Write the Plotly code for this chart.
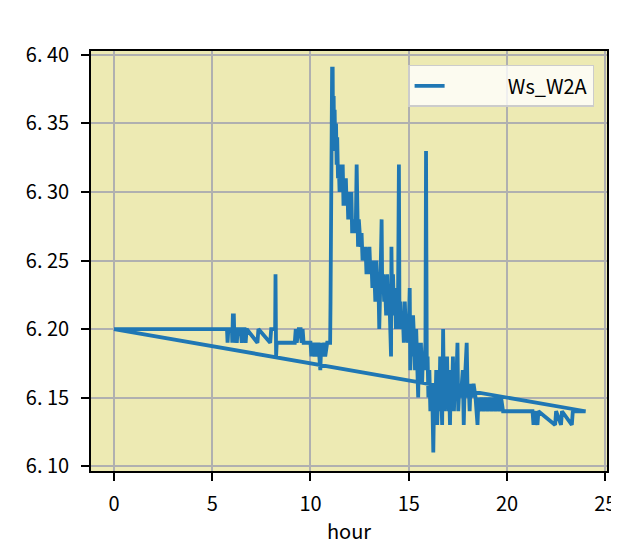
import plotly.graph_objects as go

# hour of day and wind speed readings
hour = [
    0.00, 5.75, 5.78, 5.82, 6.00, 6.02, 6.05, 6.10, 6.13, 6.20, 6.25, 6.30,
    6.45, 6.50, 6.55, 6.65, 6.70, 6.75, 7.30, 7.35, 7.95, 8.00, 8.20, 8.22,
    8.25, 8.28, 9.20, 9.25, 9.30, 9.40, 9.50, 9.55, 9.60, 9.65, 10.00, 10.05,
    10.10, 10.20, 10.25, 10.35, 10.40, 10.50, 10.55, 10.60, 10.70, 10.75, 10.85, 10.95,
    11.00, 11.02, 11.04, 11.06, 11.08, 11.10, 11.13, 11.15, 11.18, 11.20, 11.23, 11.26,
    11.30, 11.33, 11.36, 11.40, 11.44, 11.48, 11.52, 11.56, 11.60, 11.64, 11.68, 11.72,
    11.76, 11.80, 11.84, 11.88, 11.92, 11.96, 12.00, 12.04, 12.08, 12.12, 12.16, 12.20,
    12.25, 12.30, 12.35, 12.38, 12.42, 12.46, 12.50, 12.55, 12.60, 12.65, 12.70, 12.75,
    12.80, 12.85, 12.90, 12.95, 13.00, 13.05, 13.10, 13.15, 13.20, 13.25, 13.30, 13.35,
    13.40, 13.45, 13.50, 13.53, 13.58, 13.62, 13.65, 13.70, 13.75, 13.80, 13.85, 13.90,
    13.95, 14.00, 14.05, 14.10, 14.12, 14.15, 14.20, 14.25, 14.30, 14.35, 14.40, 14.45,
    14.50, 14.53, 14.58, 14.62, 14.70, 14.75, 14.80, 14.85, 14.90, 14.95, 15.00, 15.05,
    15.08, 15.12, 15.18, 15.22, 15.28, 15.32, 15.38, 15.42, 15.48, 15.52, 15.58, 15.62,
    15.68, 15.72, 15.78, 15.85, 15.88, 15.92, 15.96, 16.00, 16.05, 16.10, 16.15, 16.20,
    16.25, 16.30, 16.35, 16.40, 16.45, 16.50, 16.55, 16.60, 16.65, 16.70, 16.75, 16.80,
    16.85, 16.90, 16.95, 17.00, 17.05, 17.10, 17.15, 17.20, 17.25, 17.30, 17.35, 17.40,
    17.48, 17.52, 17.58, 17.65, 17.75, 17.80, 17.85, 17.95, 18.00, 18.05, 18.10, 18.15,
    18.20, 18.30, 18.40, 18.50, 18.55, 18.60, 18.70, 18.80, 18.90, 19.00, 19.10, 19.20,
    19.30, 19.40, 19.50, 19.60, 19.70, 19.80, 20.00, 21.30, 21.35, 21.40, 21.55, 21.60,
    22.45, 22.50, 22.75, 22.80, 23.30, 23.35, 24.00, 0.00,
]
ws_w2a = [
    6.20, 6.20, 6.19, 6.20, 6.20, 6.19, 6.21, 6.21, 6.19, 6.20, 6.19, 6.20,
    6.20, 6.19, 6.20, 6.20, 6.19, 6.20, 6.19, 6.20, 6.19, 6.20, 6.20, 6.24,
    6.18, 6.19, 6.19, 6.20, 6.19, 6.20, 6.20, 6.19, 6.20, 6.19, 6.19, 6.18,
    6.19, 6.18, 6.19, 6.18, 6.19, 6.17, 6.19, 6.18, 6.19, 6.18, 6.19, 6.19,
    6.19, 6.22, 6.30, 6.34, 6.38, 6.39, 6.39, 6.33, 6.37, 6.34, 6.36, 6.33,
    6.35, 6.32, 6.34, 6.31, 6.32, 6.30, 6.32, 6.31, 6.30, 6.32, 6.29, 6.31,
    6.30, 6.31, 6.29, 6.30, 6.28, 6.30, 6.29, 6.28, 6.30, 6.27, 6.28, 6.27,
    6.28, 6.27, 6.32, 6.27, 6.26, 6.28, 6.27, 6.26, 6.27, 6.25, 6.26, 6.25,
    6.26, 6.24, 6.25, 6.24, 6.26, 6.24, 6.25, 6.23, 6.25, 6.24, 6.22, 6.25,
    6.23, 6.24, 6.20, 6.24, 6.25, 6.28, 6.23, 6.24, 6.22, 6.23, 6.21, 6.24,
    6.22, 6.23, 6.21, 6.18, 6.26, 6.22, 6.24, 6.21, 6.23, 6.20, 6.22, 6.21,
    6.32, 6.20, 6.22, 6.20, 6.21, 6.19, 6.22, 6.20, 6.21, 6.19, 6.20, 6.23,
    6.17, 6.20, 6.18, 6.21, 6.19, 6.17, 6.20, 6.18, 6.15, 6.19, 6.17, 6.19,
    6.16, 6.18, 6.17, 6.19, 6.33, 6.17, 6.18, 6.15, 6.17, 6.14, 6.16, 6.15,
    6.11, 6.16, 6.14, 6.17, 6.13, 6.16, 6.14, 6.18, 6.15, 6.13, 6.20, 6.14,
    6.17, 6.15, 6.18, 6.14, 6.16, 6.13, 6.17, 6.15, 6.18, 6.14, 6.16, 6.15,
    6.19, 6.14, 6.16, 6.15, 6.17, 6.13, 6.16, 6.19, 6.15, 6.16, 6.14, 6.16,
    6.15, 6.16, 6.15, 6.13, 6.15, 6.14, 6.15, 6.14, 6.15, 6.14, 6.15, 6.14,
    6.15, 6.14, 6.15, 6.14, 6.15, 6.14, 6.14, 6.14, 6.13, 6.14, 6.13, 6.14,
    6.13, 6.14, 6.13, 6.14, 6.13, 6.14, 6.14, 6.20,
]

y_ticks = [6.10, 6.15, 6.20, 6.25, 6.30, 6.35, 6.40]
y_labels = ["6. 10", "6. 15", "6. 20", "6. 25", "6. 30", "6. 35", "6. 40"]
x_ticks = [0, 5, 10, 15, 20, 25]

font = "Noto Sans CJK SC"

fig = go.Figure(go.Scatter(
    x=hour, y=ws_w2a, mode="lines", name="             Ws_W2A",
    line=dict(color="#1f77b4", width=3.8),
))

axis_style = dict(
    showline=True, linecolor="black", linewidth=1.7, mirror=True,
    ticks="outside", ticklen=8, tickwidth=1.7, tickcolor="black",
    showgrid=True, gridcolor="#b0b0b0", gridwidth=1.6, zeroline=False,
    tickfont=dict(family=font, size=20, color="black"), automargin=False,
    ticklabeloverflow="allow",
)

fig.update_xaxes(range=[-1.17, 25.09], tickvals=x_ticks, ticklabelstandoff=6,
                 title=dict(text="hour", font=dict(family=font, size=20, color="black"),
                            standoff=10),
                 **axis_style)
fig.update_yaxes(range=[6.0964, 6.4029], tickvals=y_ticks, ticktext=y_labels,
                 ticklabelstandoff=8, **axis_style)

# page body has an 8px margin; height kept so the page does not scroll
fig.update_layout(
    width=611, height=537,
    margin=dict(l=83, r=12, t=43, b=74),
    paper_bgcolor="white", plot_bgcolor="#edeab3",
    font=dict(family=font, color="black"),
    showlegend=True,
    legend=dict(x=0.975, y=0.967, xanchor="right", yanchor="top",
                bgcolor="rgba(255,255,255,0.8)", bordercolor="#cccccc", borderwidth=1.5,
                font=dict(family=font, size=20, color="black")),
)

fig.write_html("out.html")
